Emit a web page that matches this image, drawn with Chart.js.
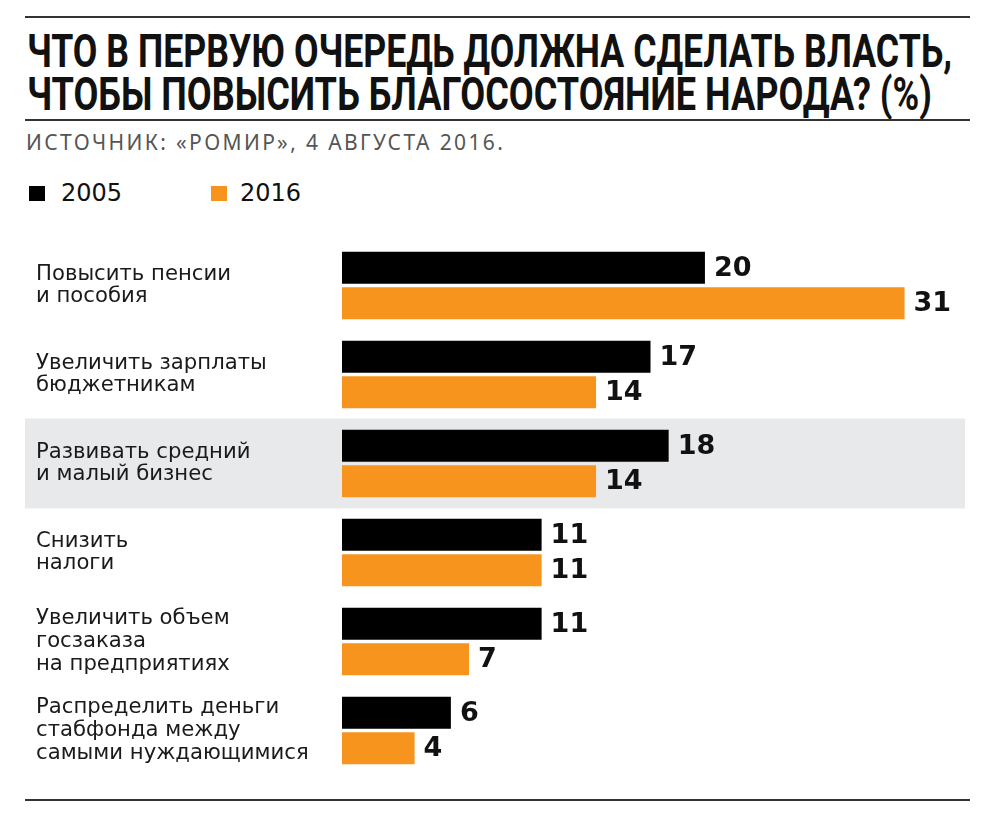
<!DOCTYPE html>
<html>
<head>
<meta charset="utf-8">
<script src="https://cdn.jsdelivr.net/npm/chart.js@4/dist/chart.umd.min.js"></script>
<style>
  body { margin: 0; background: #fff; width: 986px; height: 820px; position: relative; overflow: hidden; }
  .rule { position: absolute; left: 25px; width: 945px; height: 2px; background: #333; }
  .title { position: absolute; left: 27px; font-family: Roboto, "DejaVu Sans", sans-serif; font-weight: 700;
           font-size: 47px; line-height: 47px; color: #111; white-space: nowrap; transform-origin: 0 0; }
  .sub { position: absolute; left: 26px; top: 128px; font-family: "Noto Sans", sans-serif; font-size: 21px; color: #555;
         white-space: nowrap; }
  .leg { position: absolute; top: 179px; font-family: "DejaVu Sans", sans-serif; font-size: 24px; color: #111; }
  .leg i { display: inline-block; width: 16px; height: 15px; position: absolute; left: 0; top: 7px; }
  .leg span { position: absolute; white-space: nowrap; }
  canvas { position: absolute; left: 0; top: 0; }
</style>
</head>
<body>
<div class="rule" style="top:16px"></div>
<div class="title" id="t1" style="top:27px">ЧТО В ПЕРВУЮ ОЧЕРЕДЬ ДОЛЖНА СДЕЛАТЬ ВЛАСТЬ,</div>
<div class="title" id="t2" style="top:70px">ЧТОБЫ ПОВЫСИТЬ БЛАГОСОСТОЯНИЕ НАРОДА? (%)</div>
<div class="rule" style="top:119px"></div>
<div class="sub" id="sub">ИСТОЧНИК: «РОМИР», 4 АВГУСТА 2016.</div>
<div class="leg" style="left:29px"><i style="background:#000"></i><span style="left:32px">2005</span></div>
<div class="leg" style="left:211px"><i style="background:#f7941e"></i><span style="left:29px">2016</span></div>
<div class="rule" style="top:799px"></div>
<canvas id="chart" width="986" height="820"></canvas>
<script>
// data
const categories = [
  ['Повысить пенсии', 'и пособия'],
  ['Увеличить зарплаты', 'бюджетникам'],
  ['Развивать средний', 'и малый бизнес'],
  ['Снизить', 'налоги'],
  ['Увеличить объем', 'госзаказа', 'на предприятиях'],
  ['Распределить деньги', 'стабфонда между', 'самыми нуждающимися']
];
const values2005 = [20, 17, 18, 11, 11, 6];
const values2016 = [31, 14, 14, 11, 7, 4];
const highlightIndex = 2;

// fit the heading lines to their width in the picture
[['t1', 925], ['t2', 905]].forEach(([id, w]) => {
  const el = document.getElementById(id);
  el.style.transform = 'scaleX(' + (w / el.offsetWidth) + ')';
});
const sub = document.getElementById('sub');
sub.style.letterSpacing = ((479 - sub.offsetWidth) / sub.textContent.length) + 'px';

const bandPlugin = {
  id: 'band',
  beforeDraw(chart) {
    const y = chart.scales.y;
    const c = y.getPixelForValue(highlightIndex);
    const ctx = chart.ctx;
    ctx.save();
    ctx.fillStyle = '#e8e9eb';
    ctx.fillRect(25, c - 45, 940, 90);
    ctx.restore();
  }
};

const valuePlugin = {
  id: 'values',
  afterDatasetsDraw(chart) {
    const ctx = chart.ctx;
    ctx.save();
    ctx.font = 'bold 27px "DejaVu Sans", sans-serif';
    ctx.fillStyle = '#111';
    ctx.textBaseline = 'middle';
    ctx.textAlign = 'left';
    chart.data.datasets.forEach((ds, i) => {
      chart.getDatasetMeta(i).data.forEach((bar, j) => {
        ctx.fillText(ds.data[j], bar.x + 9, bar.y + 1);
      });
    });
    ctx.restore();
  }
};

new Chart(document.getElementById('chart'), {
  type: 'bar',
  data: {
    labels: categories,
    datasets: [
      { label: '2005', data: values2005, backgroundColor: '#000' },
      { label: '2016', data: values2016, backgroundColor: '#f7941e' }
    ]
  },
  options: {
    indexAxis: 'y',
    responsive: false,
    animation: false,
    categoryPercentage: 0.8,
    barPercentage: 0.9,
    layout: { padding: { left: 36, top: 241, bottom: 45, right: 27 } },
    plugins: { legend: { display: false }, tooltip: { enabled: false } },
    scales: {
      x: { display: false, min: 0, max: 34 },
      y: {
        grid: { display: false, drawTicks: false },
        border: { display: false },
        afterFit(scale) { scale.width = 306; },
        ticks: {
          crossAlign: 'far',
          padding: 0,
          autoSkip: false,
          color: '#1a1a1a',
          font: { family: '"DejaVu Sans", sans-serif', size: 21.2, lineHeight: 1.07 }
        }
      }
    }
  },
  plugins: [bandPlugin, valuePlugin]
});
</script>
</body>
</html>
